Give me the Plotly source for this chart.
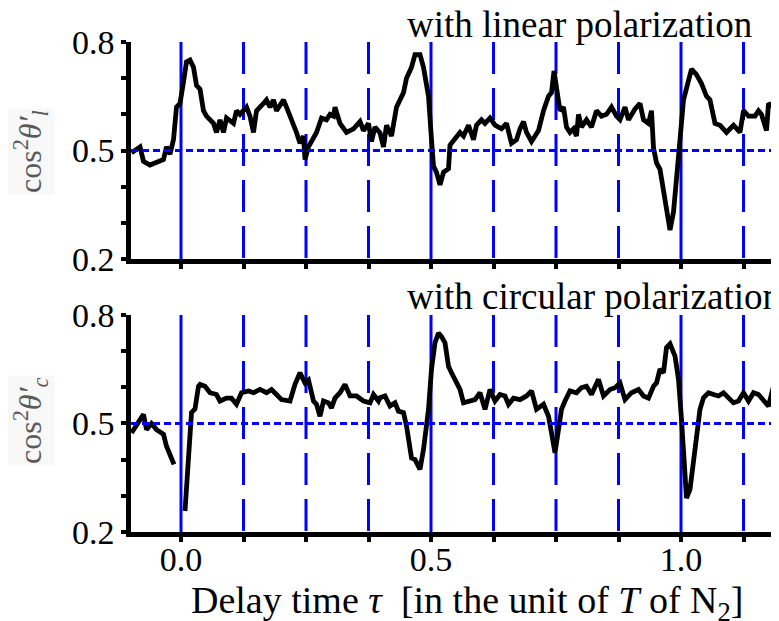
import plotly.graph_objects as go

# ---- data ----
tau_lin = [-0.099, -0.082, -0.075, -0.062, -0.035, -0.029, -0.022, -0.015, -0.009, -0.002,
           0.005, 0.011, 0.018, 0.025, 0.031, 0.038, 0.045, 0.051, 0.065, 0.071,
           0.078, 0.085, 0.091, 0.105, 0.111, 0.118, 0.131, 0.138, 0.145, 0.151,
           0.165, 0.171, 0.178, 0.185, 0.191, 0.205, 0.211, 0.225, 0.231, 0.238,
           0.245, 0.248, 0.255, 0.271, 0.281, 0.291, 0.298, 0.305, 0.308, 0.318,
           0.325, 0.331, 0.345, 0.358, 0.365, 0.375, 0.381, 0.388,
           0.398, 0.405, 0.411, 0.421, 0.431, 0.445, 0.451, 0.461, 0.468, 0.478,
           0.485, 0.495, 0.501, 0.505, 0.511, 0.518, 0.525, 0.535, 0.538, 0.551,
           0.558, 0.565, 0.575, 0.585, 0.591, 0.601, 0.608, 0.618, 0.628, 0.641,
           0.651, 0.661, 0.671, 0.678, 0.685, 0.691, 0.701, 0.715, 0.725, 0.735,
           0.741, 0.746, 0.751, 0.758, 0.765, 0.771, 0.778, 0.785, 0.791, 0.795,
           0.801, 0.811, 0.821, 0.831, 0.841, 0.851, 0.861, 0.871, 0.878, 0.888,
           0.895, 0.908, 0.918, 0.925, 0.935, 0.941, 0.945, 0.951, 0.958, 0.965,
           0.971, 0.978, 0.985, 0.991, 0.998, 1.005, 1.011, 1.021, 1.031, 1.041,
           1.051, 1.058, 1.068, 1.078, 1.091, 1.105, 1.118, 1.125, 1.135, 1.148,
           1.155, 1.161, 1.171, 1.175, 1.185, 1.195]
cos_lin = [0.494, 0.51, 0.47, 0.46, 0.475, 0.51, 0.49, 0.53, 0.62, 0.63,
           0.69, 0.745, 0.75, 0.73, 0.68, 0.67, 0.61, 0.595, 0.575, 0.55,
           0.585, 0.55, 0.59, 0.575, 0.61, 0.60, 0.62, 0.595, 0.55, 0.61,
           0.63, 0.64, 0.62, 0.64, 0.61, 0.64, 0.62, 0.575, 0.55, 0.52,
           0.54, 0.475, 0.51, 0.55, 0.59, 0.585, 0.60, 0.595, 0.62, 0.575,
           0.56, 0.55, 0.56, 0.58, 0.555, 0.575, 0.525, 0.565,
           0.549, 0.51, 0.57, 0.54, 0.62, 0.66, 0.70, 0.73, 0.765, 0.765,
           0.73, 0.65, 0.53, 0.457, 0.44, 0.405, 0.44, 0.45, 0.515, 0.535,
           0.55, 0.54, 0.57, 0.53, 0.57, 0.585, 0.575, 0.59, 0.57, 0.56,
           0.575, 0.52, 0.53, 0.56, 0.58, 0.55, 0.525, 0.555, 0.61, 0.65,
           0.66, 0.72, 0.67, 0.61, 0.62, 0.565, 0.55, 0.56, 0.54, 0.60,
           0.565, 0.585, 0.565, 0.61, 0.595, 0.60, 0.62, 0.595, 0.585, 0.62,
           0.585, 0.615, 0.63, 0.585, 0.575, 0.61, 0.507, 0.466, 0.448, 0.385,
           0.33, 0.28, 0.33, 0.44, 0.53, 0.64, 0.675, 0.725, 0.71, 0.685,
           0.65, 0.64, 0.575, 0.57, 0.55, 0.57, 0.55, 0.61, 0.595, 0.595,
           0.61, 0.60, 0.555, 0.63, 0.62, 0.645]

tau_circ = [-0.099, -0.089, -0.082, -0.075, -0.069, -0.059, -0.049, -0.035, -0.029, -0.022,
            -0.014, None,
            0.008, 0.015, 0.021, 0.028, 0.035, 0.038, 0.048, 0.058, 0.071, 0.078,
            0.091, 0.101, 0.111, 0.121, 0.135, 0.145, 0.158, 0.171, 0.181, 0.191,
            0.201, 0.218, 0.228, 0.238, 0.248, 0.255, 0.265, 0.271, 0.278, 0.285,
            0.295, 0.301, 0.308, 0.318, 0.328, 0.338, 0.351, 0.365, 0.378, 0.385,
            0.395,
            0.398, 0.408, 0.418, 0.428, 0.435, 0.445, 0.451, 0.461, 0.468, 0.478,
            0.485, 0.495, 0.501, 0.508, 0.515, 0.521, 0.528, 0.535, 0.541, 0.551,
            0.558, 0.565, 0.575, 0.588, 0.598, 0.608, 0.618, 0.628, 0.638, 0.648,
            0.655, 0.665, 0.678, 0.691, 0.701, 0.711, 0.725, 0.735, 0.741, 0.748,
            0.755, 0.761, 0.768, 0.778, 0.791, 0.801, 0.811, 0.821, 0.835, 0.845,
            0.858, 0.868, 0.878, 0.888, 0.901, 0.915, 0.925, 0.935, 0.945, 0.951,
            0.958, 0.965, 0.971, 0.978, 0.988, 0.995, 1.001, 1.008, 1.011, 1.018,
            1.028, 1.038, 1.045, 1.055, 1.065, 1.075, 1.085, 1.095, 1.105, 1.115,
            1.125, 1.135, 1.145, 1.155, 1.165, 1.175, 1.185, 1.195]
cos_circ = [0.474, 0.493, 0.51, 0.525, 0.483, 0.50, 0.483, 0.47, 0.437, 0.41,
            0.387, None,
            0.258, 0.382, 0.53, 0.54, 0.603, 0.608, 0.603, 0.585, 0.58, 0.562,
            0.57, 0.57, 0.553, 0.585, 0.59, 0.585, 0.594, 0.585, 0.594, 0.58,
            0.566, 0.562, 0.608, 0.64, 0.612, 0.62, 0.562, 0.553, 0.52, 0.562,
            0.557, 0.543, 0.57, 0.585, 0.608, 0.576, 0.576, 0.562, 0.557, 0.58,
            0.562,
            0.571, 0.576, 0.548, 0.557, 0.534, 0.53, 0.493, 0.405, 0.40, 0.373,
            0.428, 0.539, 0.65, 0.723, 0.75, 0.74, 0.723, 0.658, 0.64, 0.612,
            0.594, 0.557, 0.562, 0.566, 0.585, 0.539, 0.594, 0.562, 0.58, 0.576,
            0.553, 0.57, 0.566, 0.576, 0.59, 0.539, 0.553, 0.52, 0.474, 0.419,
            0.483, 0.539, 0.562, 0.59, 0.585, 0.599, 0.603, 0.58, 0.622, 0.576,
            0.594, 0.599, 0.612, 0.566, 0.585, 0.594, 0.576, 0.57, 0.603, 0.612,
            0.65, 0.64, 0.71, 0.72, 0.686, 0.622, 0.511, 0.373, 0.294, 0.318,
            0.428, 0.539, 0.571, 0.585, 0.58, 0.576, 0.585, 0.57, 0.557, 0.562,
            0.585, 0.562, 0.585, 0.58, 0.562, 0.548, 0.603, 0.566]

solid_marks = [0.0, 0.5, 1.0]
dashed_marks = [0.125, 0.25, 0.375, 0.625, 0.75, 0.875, 1.125]
ref_level = 0.5
y_lo, y_hi = 0.2, 0.8
x_lo, x_hi = -0.1, 1.196

y_major = [0.2, 0.5, 0.8]
y_major_text = ["0.2", "0.5", "0.8"]
y_minor = [0.3, 0.4, 0.6, 0.7]
x_major = [0.0, 0.5, 1.0]
x_major_text = ["0.0", "0.5", "1.0"]
x_minor = [0.125, 0.25, 0.375, 0.625, 0.75, 0.875, 1.125]

panel_titles = ["with linear polarization", "with circular polarization"]
y_titles = ["cos<sup>2</sup><i>θ′</i><sub><i>l</i></sub>",
            "cos<sup>2</sup><i>θ′</i><sub><i>c</i></sub>"]
x_title = "Delay time <i>τ</i>  [in the unit of <i>T</i> of N<sub>2</sub>]"

FONT = "Liberation Serif"
BLUE = "#0000ff"

fig = go.Figure()

series = [(tau_lin, cos_lin), (tau_circ, cos_circ)]
axes = [("x", "y"), ("x2", "y2")]

for (xs, ys), (xa, ya) in zip(series, axes):
    for xv in solid_marks:
        fig.add_trace(go.Scatter(x=[xv, xv], y=[y_lo, y_hi], mode="lines",
                                 line=dict(color=BLUE, width=3),
                                 xaxis=xa, yaxis=ya, showlegend=False, hoverinfo="skip"))
    for xv in dashed_marks:
        fig.add_trace(go.Scatter(x=[xv, xv], y=[y_hi, y_lo], mode="lines",
                                 line=dict(color=BLUE, width=3, dash="32px,14px"),
                                 xaxis=xa, yaxis=ya, showlegend=False, hoverinfo="skip"))
    fig.add_trace(go.Scatter(x=xs, y=ys, mode="lines",
                             line=dict(color="black", width=4.8),
                             connectgaps=False,
                             xaxis=xa, yaxis=ya, showlegend=False))
    fig.add_trace(go.Scatter(x=[x_lo, x_hi], y=[ref_level, ref_level], mode="lines",
                             line=dict(color=BLUE, width=3, dash="7px,4px"),
                             xaxis=xa, yaxis=ya, showlegend=False, hoverinfo="skip"))

axis_common = dict(showline=True, linecolor="black", linewidth=4.5,
                   showgrid=False, zeroline=False,
                   ticks="outside", ticklen=5, tickwidth=4, tickcolor="black",
                   tickfont=dict(family=FONT, size=34, color="black"))
minor_common = dict(ticks="outside", ticklen=5, tickwidth=4, tickcolor="black",
                    showgrid=False, tickmode="array")

# the page body adds an 8px offset; the figure is sized and placed to compensate
fig.update_layout(
    width=771, height=613,
    margin=dict(l=123, r=0, t=34, b=89, autoexpand=False),
    paper_bgcolor="white", plot_bgcolor="white",
    font=dict(family=FONT),
    xaxis=dict(domain=[0, 1], range=[x_lo, x_hi], anchor="y",
               tickvals=x_major, ticktext=x_major_text, showticklabels=False,
               minor=dict(tickvals=x_minor, **minor_common), **axis_common),
    yaxis=dict(domain=[0.557, 1.0], range=[y_lo, y_hi], anchor="x",
               tickvals=y_major, ticktext=y_major_text,
               minor=dict(tickvals=y_minor, **minor_common), **axis_common),
    xaxis2=dict(domain=[0, 1], range=[x_lo, x_hi], anchor="y2",
                tickvals=x_major, ticktext=x_major_text, ticklabelstandoff=-12,
                minor=dict(tickvals=x_minor, **minor_common), **axis_common),
    yaxis2=dict(domain=[0.0, 0.443], range=[y_lo, y_hi], anchor="x2",
                tickvals=y_major, ticktext=y_major_text,
                minor=dict(tickvals=y_minor, **minor_common), **axis_common),
)

ann = []
ann.append(dict(text=panel_titles[0], x=0.4228, y=1.035, xref="paper", yref="paper",
                xanchor="left", yanchor="middle", showarrow=False,
                font=dict(family=FONT, size=37, color="black")))
ann.append(dict(text=panel_titles[1], x=0.4228, y=0.4796, xref="paper", yref="paper",
                xanchor="left", yanchor="middle", showarrow=False,
                font=dict(family=FONT, size=37, color="black")))
for yt, yp in zip(y_titles, [(532 - 152) / 490, (532 - 421) / 490]):
    ann.append(dict(text=yt, x=(30 - 131) / 648, y=yp, xref="paper", yref="paper",
                    xanchor="center", yanchor="middle", showarrow=False, textangle=-90,
                    bgcolor="#f8f8f8",
                    font=dict(family=FONT, size=32, color="#5a5a5a")))
ann.append(dict(text=x_title, x=(467 - 131) / 648, y=(532 - 603) / 490,
                xref="paper", yref="paper", xanchor="center", yanchor="middle",
                showarrow=False, font=dict(family=FONT, size=38, color="black")))
fig.update_layout(annotations=ann)

fig.write_html("out.html")
